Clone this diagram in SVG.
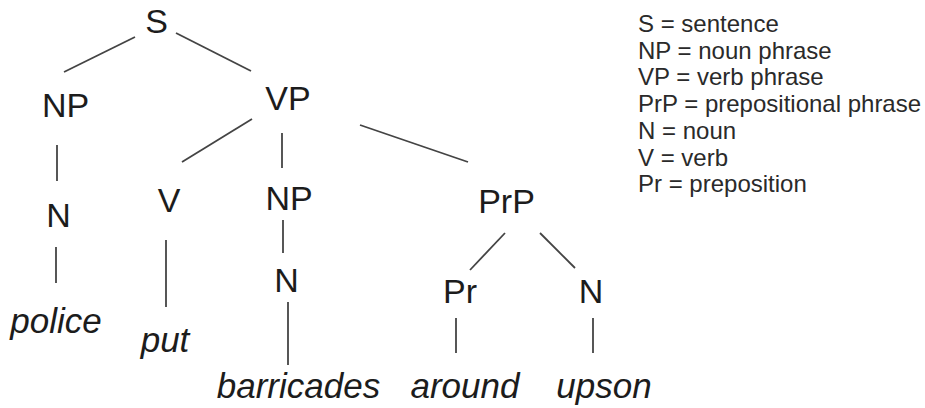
<svg xmlns="http://www.w3.org/2000/svg" width="925" height="408" viewBox="0 0 925 408">
  <style>
    .cat { font-family: "Liberation Sans", Arial, sans-serif; font-size: 34px; fill: #1c1c1c; text-anchor: middle; }
    .word { font-family: "Liberation Sans", Arial, sans-serif; font-size: 35px; font-style: italic; fill: #1c1c1c; text-anchor: middle; }
    .key { font-family: "Liberation Sans", Arial, sans-serif; font-size: 24px; fill: #2a2a2a; }
    .edge { stroke: #444444; stroke-width: 1.8; fill: none; }
  </style>
  <rect width="925" height="408" fill="#ffffff"/>

  <!-- tree branches -->
  <g id="connectors">
    <line class="edge" x1="64" y1="72" x2="135" y2="37"/>
    <line class="edge" x1="176" y1="33" x2="251" y2="71"/>
    <line class="edge" x1="57" y1="145" x2="57" y2="181"/>
    <line class="edge" x1="56" y1="247" x2="56" y2="283"/>
    <line class="edge" x1="252" y1="119" x2="182" y2="162"/>
    <line class="edge" x1="282" y1="133" x2="282" y2="168"/>
    <line class="edge" x1="360" y1="125" x2="468" y2="162"/>
    <line class="edge" x1="166" y1="240" x2="166" y2="307"/>
    <line class="edge" x1="283" y1="220" x2="283" y2="253"/>
    <line class="edge" x1="288" y1="302" x2="288" y2="365"/>
    <line class="edge" x1="505" y1="233" x2="470" y2="270"/>
    <line class="edge" x1="540" y1="233" x2="575" y2="268"/>
    <line class="edge" x1="456" y1="318" x2="456" y2="353"/>
    <line class="edge" x1="593" y1="318" x2="593" y2="353"/>
  </g>

  <!-- category nodes -->
  <g id="node-s"><text class="cat" x="156.5" y="33">S</text></g>
  <g id="node-np1"><text class="cat" x="65.5" y="117">NP</text></g>
  <g id="node-vp"><text class="cat" x="288" y="110">VP</text></g>
  <g id="node-n1"><text class="cat" x="58.5" y="227">N</text></g>
  <g id="node-v"><text class="cat" x="169" y="212">V</text></g>
  <g id="node-np2"><text class="cat" x="289" y="210">NP</text></g>
  <g id="node-n2"><text class="cat" x="286.5" y="292">N</text></g>
  <g id="node-prp"><text class="cat" x="506.5" y="213">PrP</text></g>
  <g id="node-pr"><text class="cat" x="460" y="303">Pr</text></g>
  <g id="node-n3"><text class="cat" x="591" y="303">N</text></g>

  <!-- leaf words -->
  <g id="word-police"><text class="word" x="56" y="333">police</text></g>
  <g id="word-put"><text class="word" x="165" y="352">put</text></g>
  <g id="word-barricades"><text class="word" x="298.5" y="398">barricades</text></g>
  <g id="word-around"><text class="word" x="465" y="398">around</text></g>
  <g id="word-upson"><text class="word" x="604" y="398">upson</text></g>

  <!-- abbreviation key -->
  <g id="legend">
    <text class="key" x="638" y="32">S = sentence</text>
    <text class="key" x="638" y="58.7">NP = noun phrase</text>
    <text class="key" x="638" y="85.4">VP = verb phrase</text>
    <text class="key" x="638" y="112">PrP = prepositional phrase</text>
    <text class="key" x="638" y="138.8">N = noun</text>
    <text class="key" x="638" y="165.5">V = verb</text>
    <text class="key" x="638" y="192">Pr = preposition</text>
  </g>
</svg>
